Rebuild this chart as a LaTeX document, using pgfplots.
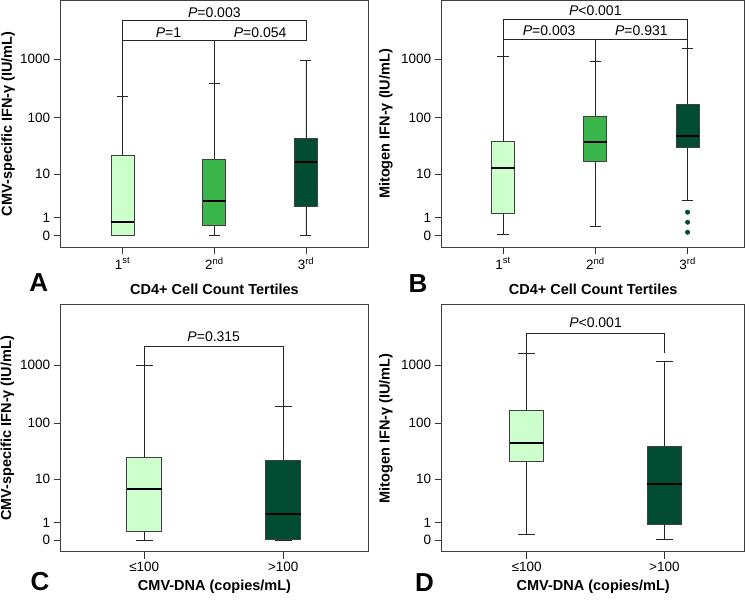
\documentclass[border=0pt]{standalone}
\usepackage{fontspec}
\setmainfont{Liberation Sans}
\usepackage{pgfplots}
\pgfplotsset{compat=1.18}
\usepgfplotslibrary{statistics}
\definecolor{lightg}{RGB}{204,255,204}
\definecolor{midg}{RGB}{58,181,74}
\definecolor{darkg}{RGB}{0,77,51}
\pgfplotsset{
  panel/.style={
    scale only axis, anchor=south west,
    ytick={0,0.30103,1.04139,2.00432,3.00043},
    yticklabels={0,1,10,100,1000},
    tick align=outside, xtick pos=bottom, ytick pos=left,
    major tick length=7bp,
    axis line style={line width=1bp, black!75},
    every tick/.style={line width=0.9bp, black!80},
    tick label style={font=\fontsize{13.5bp}{15bp}\selectfont},
    /pgf/number format/assume math mode=true,
    label style={font=\bfseries\fontsize{14.5bp}{17bp}\selectfont},
    clip=false,
    boxplot/draw direction=y,
    boxplot/box extend=0.25,
    boxplot/whisker extend=0.12,
    boxplot/every median/.style={line width=2bp, draw=black},
    boxplot/every whisker/.style={line width=0.9bp, draw=black!85},
  },
  bx/.style={draw=black!75, line width=0.9bp, fill=#1},
}
\newcommand{\pfont}{\fontsize{14bp}{16bp}\selectfont}
\begin{document}
\begin{tikzpicture}
% ---------------- A ----------------
\begin{axis}[panel, at={(60.7bp,352.7bp)}, width=307.6bp, height=246.8bp,
  xmin=-0.676, xmax=2.68, ymin=-0.2, ymax=4.0,
  xtick={0,1,2}, xticklabels={1\textsuperscript{st},2\textsuperscript{nd},3\textsuperscript{rd}},
  xlabel={CD4+ Cell Count Tertiles},
  ylabel={CMV-specific IFN-γ (IU/mL)},
  x label style={at={(axis description cs:0.5,-0.193)}, anchor=base},
  y label style={at={(axis description cs:-0.171,0.5)}, anchor=center}]
\addplot[bx=lightg, boxplot prepared={draw position=0, lower whisker=0, lower quartile=0, median=0.227, upper quartile=1.364, upper whisker=2.362}] coordinates {};
\addplot[bx=midg, boxplot prepared={draw position=1, lower whisker=0, lower quartile=0.164, median=0.590, upper quartile=1.295, upper whisker=2.584}] coordinates {};
\addplot[bx=darkg, boxplot prepared={draw position=2, lower whisker=0, lower quartile=0.494, median=1.244, upper quartile=1.658, upper whisker=2.983}] coordinates {};
\draw[line width=0.9bp, black!85] (axis cs:0,2.362) -- (axis cs:0,3.658) -- (axis cs:2,3.658) -- (axis cs:2,3.317);
\draw[line width=0.9bp, black!85] (axis cs:0,3.317) -- (axis cs:2,3.317);
\draw[line width=0.9bp, black!85] (axis cs:1,2.584) -- (axis cs:1,3.317);
\node[anchor=base, font=\pfont] at (axis cs:1,3.716) {\textit{P}=0.003};
\node[anchor=base, font=\pfont] at (axis cs:0.5,3.375) {\textit{P}=1};
\node[anchor=base, font=\pfont] at (axis cs:1.5,3.375) {\textit{P}=0.054};
\end{axis}
% ---------------- B ----------------
\begin{axis}[panel, at={(441.7bp,352.7bp)}, width=303bp, height=246.8bp,
  xmin=-0.664, xmax=2.619, ymin=-0.2, ymax=4.0,
  xtick={0,1,2}, xticklabels={1\textsuperscript{st},2\textsuperscript{nd},3\textsuperscript{rd}},
  xlabel={CD4+ Cell Count Tertiles},
  ylabel={Mitogen IFN-γ (IU/mL)},
  x label style={at={(axis description cs:0.5,-0.193)}, anchor=base},
  y label style={at={(axis description cs:-0.184,0.5)}, anchor=center}]
\addplot[bx=lightg, boxplot prepared={draw position=0, lower whisker=0.017, lower quartile=0.369, median=1.153, upper quartile=1.602, upper whisker=3.045}] coordinates {};
\addplot[bx=midg, boxplot prepared={draw position=1, lower whisker=0.147, lower quartile=1.255, median=1.585, upper quartile=2.033, upper whisker=2.971}] coordinates {};
\addplot[bx=darkg, mark=*, mark size=2.2bp, mark options={fill=darkg, draw=darkg, line width=0.5bp},
  boxplot prepared={draw position=2, lower whisker=0.597, lower quartile=1.505, median=1.693, upper quartile=2.233, upper whisker=3.176}]
  table[row sep=\\, y index=0] {data\\ 0.397\\ 0.227\\ 0.056\\};
\draw[line width=0.9bp, black!85] (axis cs:0,3.045) -- (axis cs:0,3.682) -- (axis cs:2,3.682) -- (axis cs:2,3.176);
\draw[line width=0.9bp, black!85] (axis cs:0,3.341) -- (axis cs:2,3.341);
\draw[line width=0.9bp, black!85] (axis cs:1,2.971) -- (axis cs:1,3.341);
\node[anchor=base, font=\pfont] at (axis cs:1,3.74) {\textit{P}<0.001};
\node[anchor=base, font=\pfont] at (axis cs:0.5,3.40) {\textit{P}=0.003};
\node[anchor=base, font=\pfont] at (axis cs:1.5,3.40) {\textit{P}=0.931};
\end{axis}
% ---------------- C ----------------
\begin{axis}[panel, at={(60.7bp,48.3bp)}, width=307.6bp, height=246.7bp,
  xmin=-0.6014, xmax=1.612, ymin=-0.2, ymax=4.03,
  xtick={0,1}, xticklabels={≤100,>100},
  xlabel={CMV-DNA (copies/mL)},
  ylabel={CMV-specific IFN-γ (IU/mL)},
  x label style={at={(axis description cs:0.5,-0.158)}, anchor=base},
  y label style={at={(axis description cs:-0.173,0.5)}, anchor=center}]
\addplot[bx=lightg, boxplot prepared={draw position=0, lower whisker=0, lower quartile=0.154, median=0.880, upper quartile=1.423, upper whisker=3.0}] coordinates {};
\addplot[bx=darkg, boxplot prepared={draw position=1, lower whisker=0, lower quartile=0.01, median=0.451, upper quartile=1.366, upper whisker=2.297}] coordinates {};
\draw[line width=0.9bp, black!85] (axis cs:0,3.0) -- (axis cs:0,3.314) -- (axis cs:1,3.314) -- (axis cs:1,2.297);
\node[anchor=base, font=\pfont] at (axis cs:0.5,3.40) {\textit{P}=0.315};
\end{axis}
% ---------------- D ----------------
\begin{axis}[panel, at={(441.7bp,48.3bp)}, width=303bp, height=246.7bp,
  xmin=-0.618, xmax=1.584, ymin=-0.2, ymax=4.03,
  xtick={0,1}, xticklabels={≤100,>100},
  xlabel={CMV-DNA (copies/mL)},
  ylabel={Mitogen IFN-γ (IU/mL)},
  x label style={at={(axis description cs:0.5,-0.158)}, anchor=base},
  y label style={at={(axis description cs:-0.184,0.5)}, anchor=center}]
\addplot[bx=lightg, boxplot prepared={draw position=0, lower whisker=0.097, lower quartile=1.354, median=1.668, upper quartile=2.217, upper whisker=3.2}] coordinates {};
\addplot[bx=darkg, boxplot prepared={draw position=1, lower whisker=0.017, lower quartile=0.274, median=0.954, upper quartile=1.6, upper whisker=3.069}] coordinates {};
\draw[line width=0.9bp, black!85] (axis cs:0,3.2) -- (axis cs:0,3.543) -- (axis cs:1,3.543) -- (axis cs:1,3.206);
\node[anchor=base, font=\pfont] at (axis cs:0.5,3.65) {\textit{P}<0.001};
\end{axis}
% panel letters
\node[font=\bfseries\fontsize{26bp}{30bp}\selectfont] at (38.8bp,317.5bp) {A};
\node[font=\bfseries\fontsize{26bp}{30bp}\selectfont] at (418bp,316bp) {B};
\node[font=\bfseries\fontsize{26bp}{30bp}\selectfont] at (40bp,18bp) {C};
\node[font=\bfseries\fontsize{26bp}{30bp}\selectfont] at (424.5bp,17bp) {D};
\pgfresetboundingbox
\useasboundingbox (0,0) rectangle (750bp,600bp);
\end{tikzpicture}
\end{document}
